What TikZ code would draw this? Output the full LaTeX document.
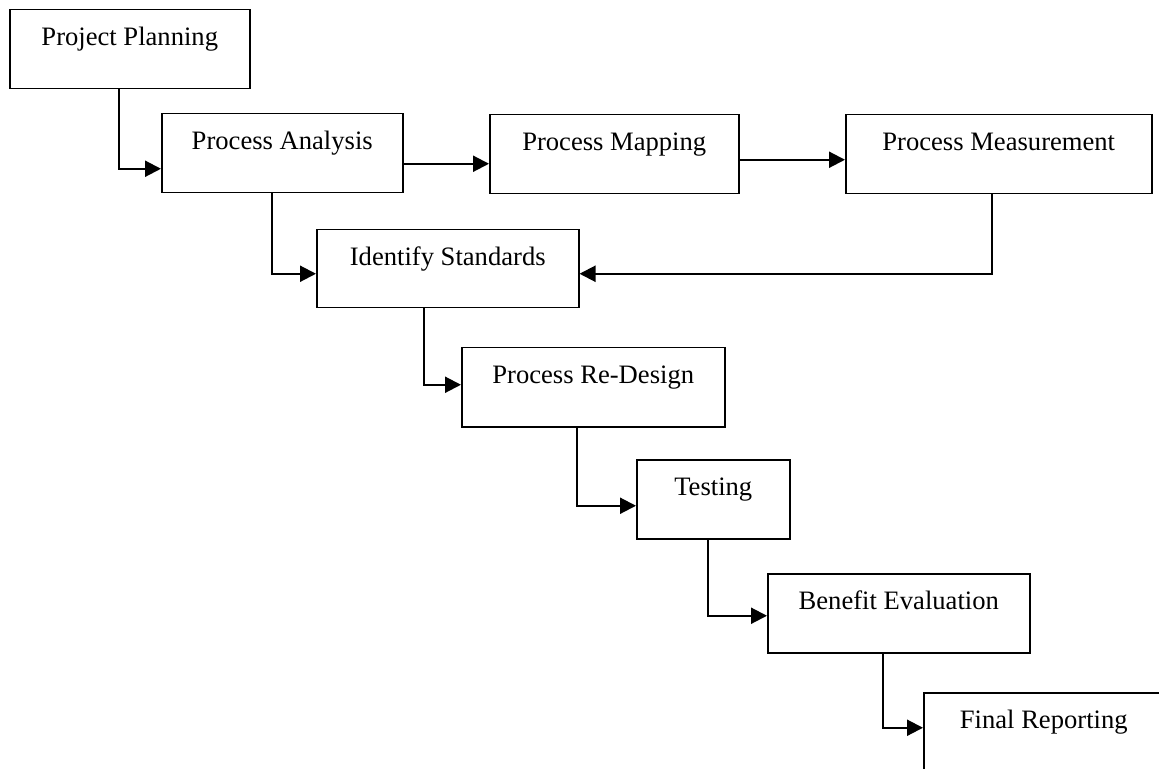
\documentclass[tikz,border=0pt]{standalone}
\usepackage{fontspec}
\setmainfont{Liberation Serif}
\usetikzlibrary{arrows.meta}
\tikzset{
  box/.style={draw, line width=0.75pt, anchor=north west, inner sep=0pt, align=center,
    font=\fontsize{13.3}{16}\selectfont, text height=18pt},
  conn/.style={line width=1.05pt, -{Triangle[length=8pt,width=8pt]}}
}
\begin{document}
\begin{tikzpicture}[x=0.5pt,y=-0.5pt]
\useasboundingbox (0,0) rectangle (1159,769);
\clip (0,0) rectangle (1159,769);
\node[box, minimum width=120pt, minimum height=39.5pt, text depth=21.5pt] (pp) at (9,9) {Project Planning};
\node[box, minimum width=120.5pt, minimum height=39.5pt, text depth=21.5pt] (pa) at (161,113) {Process Analysis};
\node[box, minimum width=124.5pt, minimum height=39.5pt, text depth=21.5pt] (pm) at (489,114) {Process Mapping};
\node[box, minimum width=153pt, minimum height=39.5pt, text depth=21.5pt] (pme) at (845,114) {Process Measurement};
\node[box, minimum width=131pt, minimum height=39pt, text depth=21pt] (is) at (316,229) {Identify Standards};
\node[box, minimum width=131.5pt, minimum height=39.5pt, text depth=21.5pt] (prd) at (461,347) {Process Re-Design};
\node[box, minimum width=76.5pt, minimum height=39.5pt, text depth=21.5pt] (t) at (636,459) {Testing};
\node[box, minimum width=131pt, minimum height=39.5pt, text depth=21.5pt] (be) at (767,573) {Benefit Evaluation};
\node[box, minimum width=120pt, minimum height=39.5pt, text depth=21.5pt] (fr) at (923,692) {Final Reporting};

\draw[conn] ([xshift=-5.5pt]pp.south) |- ([yshift=-7.75pt]pa.west);
\draw[conn] ([yshift=-5.25pt]pa.east) -- ([yshift=-5.25pt]pa.east -| pm.west);
\draw[conn] ([yshift=-2.75pt]pm.east) -- ([yshift=-2.75pt]pm.east -| pme.west);
\draw[conn] ([xshift=-3.5pt]pme.south) |- ([yshift=-2.5pt]is.east);
\draw[conn] ([xshift=-5.25pt]pa.south) |- ([yshift=-2.5pt]is.west);
\draw[conn] ([xshift=-12pt]is.south) |- ([yshift=1.25pt]prd.west);
\draw[conn] ([xshift=-8.25pt]prd.south) |- ([yshift=-3.25pt]t.west);
\draw[conn] ([xshift=-2.75pt]t.south) |- ([yshift=-1.25pt]be.west);
\draw[conn] ([xshift=-8pt]be.south) |- ([yshift=2.25pt]fr.west);
\end{tikzpicture}
\end{document}
